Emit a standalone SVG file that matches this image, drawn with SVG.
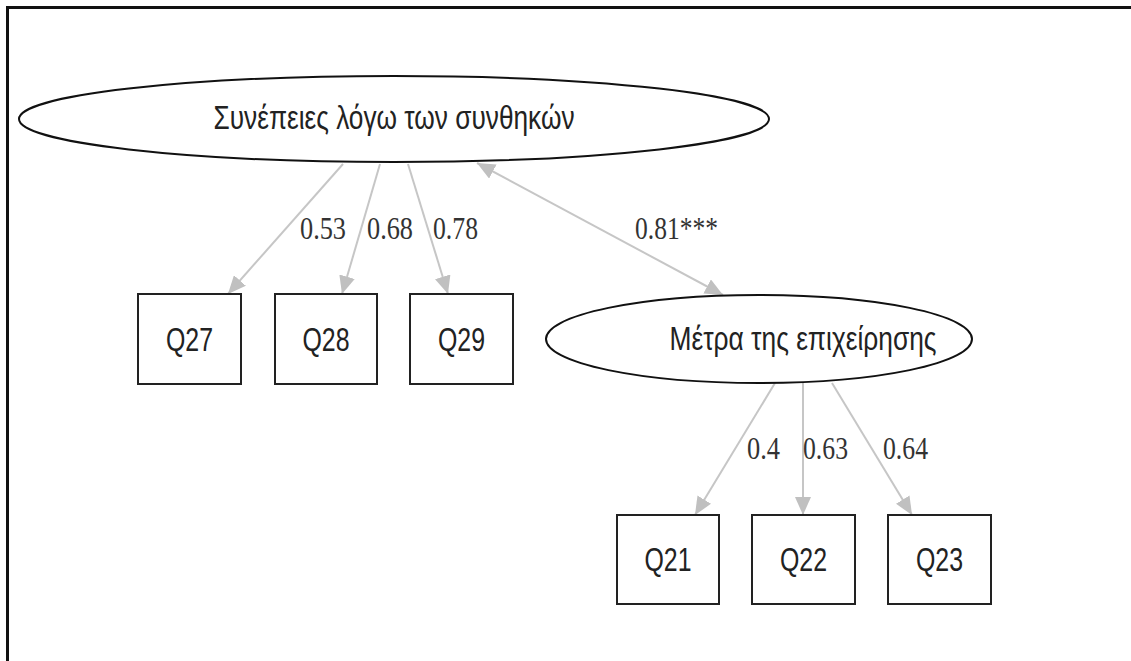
<svg xmlns="http://www.w3.org/2000/svg" width="1131" height="661" viewBox="0 0 1131 661">
  <style>
    .frame { fill: none; stroke: #111; stroke-width: 3; }
    .latent { fill: #fff; stroke: #111; stroke-width: 2; }
    .obs { fill: #fff; stroke: #222; stroke-width: 2; }
    .lbl { font-family: "Liberation Sans", Arial, sans-serif; font-size: 33px; fill: #222; text-anchor: middle; }
    .coef { font-family: "Liberation Serif", "Times New Roman", serif; font-size: 32px; fill: #333; }
    .edge { fill: none; stroke: #c6c6c6; stroke-width: 2; }
  </style>
  <defs>
    <marker id="head" markerUnits="userSpaceOnUse" markerWidth="18" markerHeight="16" refX="18" refY="8" orient="auto-start-reverse">
      <path d="M0,0 L18,8 L0,16 Z" fill="#c0c0c0"/>
    </marker>
  </defs>

  <rect width="1131" height="661" fill="#fff"/>
  <!-- outer border (open at right and bottom) -->
  <path class="frame" d="M7.5,670 L7.5,7.5 L1140,7.5"/>

  <g id="connectors">
    <line class="edge" x1="343" y1="164" x2="228" y2="294" marker-end="url(#head)"/>
    <line class="edge" x1="380" y1="164" x2="342" y2="294" marker-end="url(#head)"/>
    <line class="edge" x1="408" y1="164" x2="448" y2="294" marker-end="url(#head)"/>
    <line class="edge" x1="477" y1="163" x2="723" y2="295" marker-start="url(#head)" marker-end="url(#head)"/>
    <line class="edge" x1="775" y1="383" x2="695" y2="515" marker-end="url(#head)"/>
    <line class="edge" x1="803" y1="383" x2="803" y2="515" marker-end="url(#head)"/>
    <line class="edge" x1="832" y1="383" x2="912" y2="515" marker-end="url(#head)"/>
    <text class="coef" x="300" y="239" textLength="46" lengthAdjust="spacingAndGlyphs">0.53</text>
    <text class="coef" x="367" y="239" textLength="46" lengthAdjust="spacingAndGlyphs">0.68</text>
    <text class="coef" x="433" y="239" textLength="45" lengthAdjust="spacingAndGlyphs">0.78</text>
    <text class="coef" x="635" y="239" textLength="83" lengthAdjust="spacingAndGlyphs">0.81***</text>
    <text class="coef" x="747" y="459" textLength="33" lengthAdjust="spacingAndGlyphs">0.4</text>
    <text class="coef" x="803" y="459" textLength="45" lengthAdjust="spacingAndGlyphs">0.63</text>
    <text class="coef" x="883" y="459" textLength="45" lengthAdjust="spacingAndGlyphs">0.64</text>
  </g>

  <g id="consequences">
    <ellipse class="latent" cx="394" cy="119" rx="375" ry="43"/>
    <text class="lbl" x="394" y="129" textLength="361" lengthAdjust="spacingAndGlyphs">Συνέπειες λόγω των συνθηκών</text>
  </g>
  <g id="measures">
    <ellipse class="latent" cx="759" cy="339" rx="213" ry="44"/>
    <text class="lbl" x="803" y="350" textLength="267" lengthAdjust="spacingAndGlyphs">Μέτρα της επιχείρησης</text>
  </g>

  <g id="Q27">
    <rect class="obs" x="138" y="294" width="103" height="90"/>
    <text class="lbl" x="189.5" y="351" textLength="47" lengthAdjust="spacingAndGlyphs">Q27</text>
  </g>
  <g id="Q28">
    <rect class="obs" x="275" y="294" width="102" height="90"/>
    <text class="lbl" x="326" y="351" textLength="47" lengthAdjust="spacingAndGlyphs">Q28</text>
  </g>
  <g id="Q29">
    <rect class="obs" x="410" y="294" width="103" height="90"/>
    <text class="lbl" x="461.5" y="351" textLength="47" lengthAdjust="spacingAndGlyphs">Q29</text>
  </g>
  <g id="Q21">
    <rect class="obs" x="617" y="515" width="102" height="89"/>
    <text class="lbl" x="668" y="571" textLength="47" lengthAdjust="spacingAndGlyphs">Q21</text>
  </g>
  <g id="Q22">
    <rect class="obs" x="752" y="515" width="103" height="89"/>
    <text class="lbl" x="803.5" y="571" textLength="47" lengthAdjust="spacingAndGlyphs">Q22</text>
  </g>
  <g id="Q23">
    <rect class="obs" x="888" y="515" width="103" height="89"/>
    <text class="lbl" x="939.5" y="571" textLength="47" lengthAdjust="spacingAndGlyphs">Q23</text>
  </g>
</svg>
